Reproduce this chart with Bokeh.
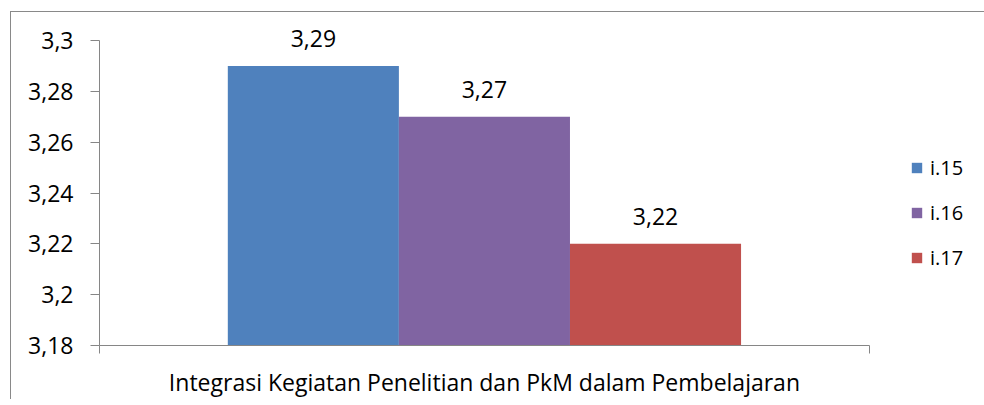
from bokeh.plotting import figure
from bokeh.models import (ColumnDataSource, Range1d, FixedTicker, LinearAxis,
                          CustomJSTickFormatter, LabelSet, Legend, LegendItem)
from bokeh.core.properties import value
from bokeh.embed import file_html
from bokeh.resources import INLINE

# ---- data ----
category = "Integrasi Kegiatan Penelitian dan PkM dalam Pembelajaran"
series = ["i.15", "i.16", "i.17"]
values = [3.29, 3.27, 3.22]
value_labels = ["3,29", "3,27", "3,22"]
colors = ["#4F81BD", "#8064A2", "#C0504D"]
y_ticks = [3.18, 3.20, 3.22, 3.24, 3.26, 3.28, 3.30]
y_min, y_max = 3.18, 3.30

FONT = "Open Sans"
AXIS_COLOR = "#868686"

# ---- layout of bars inside the single category (Excel gap width 150%) ----
n = len(series)
bar_w = 1.0 / (n + 1.5)
xs = [0.5 + (i - (n - 1) / 2) * bar_w for i in range(n)]

src = ColumnDataSource(dict(x=xs, top=values, color=colors, name=series,
                            lab=value_labels))

W, H = 973, 387
LEFT, TOP, BOTTOM = 88, 4, 55          # borders in px
AXIS_H = 304                            # px from y_min to y_max
AXIS_W = 769                            # px of the category
frame_h = H - TOP - BOTTOM
frame_w = W - LEFT
y_end = y_min + (y_max - y_min) * frame_h / AXIS_H
x_end = frame_w / AXIS_W

p = figure(width=W, height=H, output_backend="svg", toolbar_location=None,
           x_range=Range1d(0, x_end), y_range=Range1d(y_min, y_end),
           min_border_left=LEFT, min_border_top=TOP, min_border_bottom=BOTTOM,
           min_border_right=0, x_axis_location=None, y_axis_location=None)
# chart-area border: only its top and left edges fall inside the window
p.styles = {"margin-left": "10px", "margin-top": "11px",
            "border-left": "1px solid #898989", "border-top": "1px solid #898989",
            "border-right": "0px none", "border-bottom": "0px none",
            "box-sizing": "content-box"}
p.outline_line_color = None
p.xgrid.visible = False
p.ygrid.visible = False
p.background_fill_color = "white"
p.border_fill_color = "white"

r = p.vbar(x="x", top="top", bottom=y_min, width=bar_w, fill_color="color",
           line_color=None, source=src)

# value labels
labels = LabelSet(x="x", y="top", text="lab", source=src, text_align="center",
                  text_baseline="alphabetic", y_offset=19,
                  text_font=value(FONT), text_font_size=value("23px"),
                  text_color=value("#000000"))
p.add_layout(labels)

# y axis
yax = LinearAxis(ticker=FixedTicker(ticks=y_ticks), bounds=(y_min, y_max),
                 formatter=CustomJSTickFormatter(code="""
                    let s = tick.toFixed(2);
                    if (s.endsWith('0')) s = s.slice(0, -1);
                    return s.replace('.', ',');"""))
yax.axis_line_color = AXIS_COLOR
yax.major_tick_line_color = AXIS_COLOR
yax.major_tick_out = 9
yax.major_tick_in = 0
yax.minor_tick_line_color = None
yax.major_label_standoff = 17
yax.major_label_text_font = FONT
yax.major_label_text_font_size = "23px"
yax.major_label_text_color = "#000000"
p.add_layout(yax, "left")

# x axis line with end ticks
xax = LinearAxis(ticker=FixedTicker(ticks=[0, 1]), bounds=(0, 1),
                 formatter=CustomJSTickFormatter(code="return '';"))
xax.axis_line_color = AXIS_COLOR
xax.major_tick_line_color = AXIS_COLOR
xax.major_tick_out = 8
xax.major_tick_in = 0
xax.minor_tick_line_color = None
xax.major_label_standoff = 0
xax.major_label_text_font_size = "1px"
p.add_layout(xax, "below")

# category label axis
cax = LinearAxis(ticker=FixedTicker(ticks=[0.5]),
                 formatter=CustomJSTickFormatter(args=dict(name=category),
                                                 code="return name;"))
cax.axis_line_color = None
cax.major_tick_line_color = None
cax.minor_tick_line_color = None
cax.major_label_standoff = 6
cax.major_label_text_font = FONT
cax.major_label_text_font_size = "23px"
cax.major_label_text_color = "#000000"
p.add_layout(cax, "below")

# legend
items = [LegendItem(label=s, renderers=[r], index=i) for i, s in enumerate(series)]
legend = Legend(items=items, location=(811, 74), orientation="vertical",
                glyph_width=13, glyph_height=13, label_height=27,
                label_standoff=7, spacing=18, padding=0, margin=0,
                border_line_alpha=0, background_fill_alpha=0,
                label_text_font=FONT, label_text_font_size="20px",
                label_text_color="#000000")
p.add_layout(legend)

open("out.html", "w").write(file_html(p, INLINE))
